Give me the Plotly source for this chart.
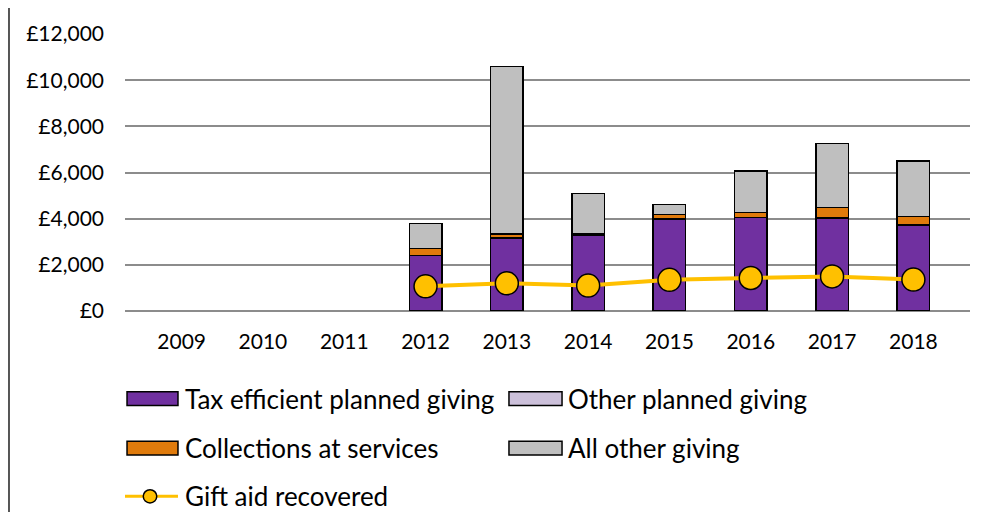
import plotly.graph_objects as go

years = ["2009", "2010", "2011", "2012", "2013", "2014", "2015", "2016", "2017", "2018"]
tax_efficient = [None, None, None, 2400, 3160, 3280, 3980, 4060, 4020, 3720]
other_planned = [None, None, None, 0, 0, 0, 0, 0, 0, 0]
collections = [None, None, None, 300, 170, 60, 210, 210, 470, 380]
all_other = [None, None, None, 1100, 7270, 1740, 420, 1800, 2770, 2400]
gift_aid = [None, None, None, 1070, 1200, 1100, 1350, 1430, 1500, 1360]

names = ["Tax efficient planned giving", "Other planned giving",
         "Collections at services", "All other giving", "Gift aid recovered"]
colors = ["#7030A0", "#CCC0DA", "#E07B0C", "#BFBFBF", "#FFC000"]

FONT = "Lato"
line_style = dict(color="black", width=1.5)

fig = go.Figure()
for vals, nm, col in zip([tax_efficient, other_planned, collections, all_other], names[:4], colors[:4]):
    fig.add_bar(x=years, y=vals, name=nm, marker=dict(color=col, line=line_style))
fig.add_scatter(x=years, y=gift_aid, name=names[4], mode="lines+markers",
                line=dict(color=colors[4], width=4),
                marker=dict(color=colors[4], size=23, line=dict(color="black", width=1.5)))

# manual legend (paper coordinates)
shapes = []
annotations = []
rows = [-0.3167, -0.4947, -0.669]
hh = 0.0249
legend_items = [
    (0, 0, 0.0024, 0.0627, 0.0686),
    (1, 0, 0.4544, 0.5172, 0.5219),
    (2, 1, 0.0024, 0.0627, 0.0686),
    (3, 1, 0.4544, 0.5172, 0.5219),
]
for idx, r, x0, x1, xt in legend_items:
    y = rows[r]
    shapes.append(dict(type="rect", xref="paper", yref="paper", x0=x0, x1=x1,
                       y0=y - hh, y1=y + hh, fillcolor=colors[idx],
                       line=dict(color="black", width=1.5)))
    annotations.append(dict(text=names[idx], xref="paper", yref="paper", x=xt, y=y,
                            xanchor="left", yanchor="middle", showarrow=False,
                            font=dict(size=26, family=FONT, color="black")))
y = rows[2]
shapes.append(dict(type="line", xref="paper", yref="paper", x0=0.0, x1=0.0627, y0=y, y1=y,
                   line=dict(color=colors[4], width=3)))
shapes.append(dict(type="circle", xref="paper", yref="paper", x0=0.0296 - 0.0080, x1=0.0296 + 0.0080,
                   y0=y - 0.0240, y1=y + 0.0240, fillcolor=colors[4],
                   line=dict(color="black", width=1.5)))
annotations.append(dict(text=names[4], xref="paper", yref="paper", x=0.0686, y=y,
                        xanchor="left", yanchor="middle", showarrow=False,
                        font=dict(size=26, family=FONT, color="black")))
# chart border on left
shapes.append(dict(type="line", xref="paper", yref="paper", x0=-0.1373, x1=-0.1373, y0=-1, y1=1.2,
                   line=dict(color="#555", width=2)))

fig.update_layout(
    barmode="stack",
    bargap=0.6,
    width=990, height=512,
    margin=dict(l=117, r=28, t=20, b=209),
    paper_bgcolor="white", plot_bgcolor="white",
    font=dict(family=FONT, size=21, color="black"),
    showlegend=False,
    shapes=shapes,
    annotations=annotations,
)
fig.update_yaxes(range=[0, 12000], dtick=2000, tickprefix="£", tickformat=",d",
                 showgrid=True, gridcolor="#8c8c8c", gridwidth=2,
                 zeroline=True, zerolinecolor="#8c8c8c", zerolinewidth=2,
                 ticks="", ticklabelstandoff=20, showline=False)
fig.update_xaxes(showgrid=False, ticks="", ticklabelstandoff=16, showline=False,
                 type="category")

fig.write_html("out.html")
